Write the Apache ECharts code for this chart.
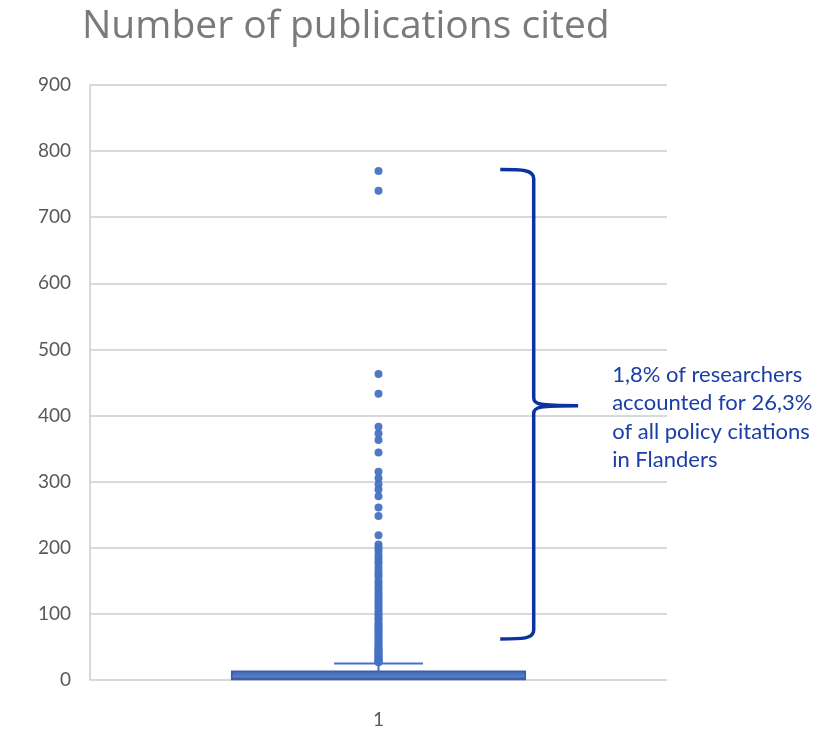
<!DOCTYPE html>
<html><head><meta charset="utf-8">
<script src="https://cdn.jsdelivr.net/npm/echarts@6/dist/echarts.min.js"></script>
<style>html,body{margin:0;padding:0;background:#fff}#c{width:819px;height:731px}</style>
</head><body><div id="c"></div>
<script>
const categories = ['1'];
const yTickMax = 900;
const yTickStep = 100;
// min, Q1, median, Q3, upper whisker
const boxStats = [0, 1, 6, 13, 25];
const outliers = [770, 740, 463, 433, 383, 373, 363, 344, 315, 305, 296, 288, 278, 261, 248, 219,
  205, 200, 196, 190, 185, 180, 176, 170, 165, 160, 156, 150, 146, 141, 137, 132, 128, 124, 120,
  116, 112, 108, 104, 100, 97, 93, 90, 86, 83, 80, 77, 74, 71, 68, 65, 62, 59, 56, 53, 50, 48,
  46, 44, 42, 40, 38, 36, 34, 32, 30, 29, 28, 27];
const braceRange = [772, 415, 62]; // top, tip, bottom
const noteLines = ['1,8% of researchers', 'accounted for 26,3%', 'of all policy citations', 'in Flanders'];
const titleText = 'Number of publications cited';

const chart = echarts.init(document.getElementById('c'));
const FONT = 'Lato, "Open Sans", sans-serif';
chart.setOption({
  animation: false,
  backgroundColor: '#fff',
  title: {
    text: titleText, left: 77, top: 2,
    textStyle: {fontFamily: '"Open Sans", Lato, sans-serif', fontWeight: 'normal', fontSize: 39, color: '#7a7a7a'}
  },
  grid: {left: 90, right: 152, top: 85, bottom: 51},
  xAxis: {
    type: 'category', data: categories,
    axisLine: {show: false}, axisTick: {show: false},
    axisLabel: {fontFamily: FONT, fontSize: 19, color: '#595959', margin: 30}
  },
  yAxis: {
    type: 'value', min: 0, max: yTickMax, interval: yTickStep,
    axisLine: {show: true, lineStyle: {color: '#d9d9d9', width: 2}},
    axisTick: {show: false},
    splitLine: {lineStyle: {color: '#d9d9d9', width: 2}},
    axisLabel: {fontFamily: FONT, fontSize: 19, color: '#595959', margin: 19}
  },
  series: [
    {
      type: 'custom', z: 3,
      data: [[0].concat(boxStats)],
      encode: {x: 0, y: [1, 2, 3, 4, 5]},
      renderItem(params, api) {
        const x = api.value(0);
        const cw = api.size([1, 0])[0];
        const pMin = api.coord([x, api.value(1)]);
        const pQ1 = api.coord([x, api.value(2)]);
        const pMed = api.coord([x, api.value(3)]);
        const pQ3 = api.coord([x, api.value(4)]);
        const pMax = api.coord([x, api.value(5)]);
        const bw = cw * 0.508, cap = cw * 0.154;
        const cx = pMed[0];
        return {type: 'group', children: [
          {type: 'line', shape: {x1: cx, y1: pQ3[1], x2: cx, y2: pMax[1]}, style: {stroke: '#4472c4', lineWidth: 2}},
          {type: 'line', shape: {x1: cx - cap / 2, y1: pMax[1], x2: cx + cap / 2, y2: pMax[1]}, style: {stroke: '#4472c4', lineWidth: 2}},
          {type: 'line', shape: {x1: cx, y1: pQ1[1], x2: cx, y2: pMin[1]}, style: {stroke: '#4472c4', lineWidth: 2}},
          {type: 'rect', shape: {x: cx - bw / 2, y: pQ3[1], width: bw, height: Math.max(1, pQ1[1] - pQ3[1])},
            style: {fill: '#4a72bd', stroke: '#3b5ea6', lineWidth: 2}},
          {type: 'line', shape: {x1: cx - bw / 2, y1: pMed[1], x2: cx + bw / 2, y2: pMed[1]}, style: {stroke: '#5f86cf', lineWidth: 1}}
        ]};
      }
    },
    {
      type: 'scatter', z: 4,
      symbol: 'circle', symbolSize: 8,
      itemStyle: {color: '#4472c4', opacity: 0.95},
      data: outliers.map(v => [0, v])
    },
    {
      type: 'custom', z: 5, clip: false, silent: true,
      data: [[0].concat(braceRange)],
      encode: {x: 0, y: [1, 2, 3]},
      renderItem(params, api) {
        const cs = params.coordSys;
        const yT = api.coord([0, api.value(1)])[1];
        const yM = api.coord([0, api.value(2)])[1];
        const yB = api.coord([0, api.value(3)])[1];
        const x0 = cs.x + cs.width * 0.711;
        const xv = cs.x + cs.width * 0.769;
        const xt = cs.x + cs.width * 0.846;
        const d = `M${x0},${yT} C${x0 + 22},${yT} ${xv},${yT} ${xv},${yT + 9} L${xv},${yM - 8}` +
          ` C${xv},${yM - 1} ${xv + 6},${yM} ${xt},${yM} C${xv + 6},${yM} ${xv},${yM + 1} ${xv},${yM + 8}` +
          ` L${xv},${yB - 9} C${xv},${yB} ${x0 + 22},${yB} ${x0},${yB}`;
        return {type: 'group', children: [
          {type: 'path', shape: {pathData: d}, style: {fill: null, stroke: '#0b33a0', lineWidth: 3.5}},
          {type: 'text', x: cs.x + cs.width * 0.905, y: yM + 12,
            style: {text: noteLines.join('\n'), fill: '#1a3ea6', font: '22px ' + FONT, lineHeight: 28.5,
              verticalAlign: 'middle', align: 'left'}}
        ]};
      }
    }
  ]
});
</script></body></html>
